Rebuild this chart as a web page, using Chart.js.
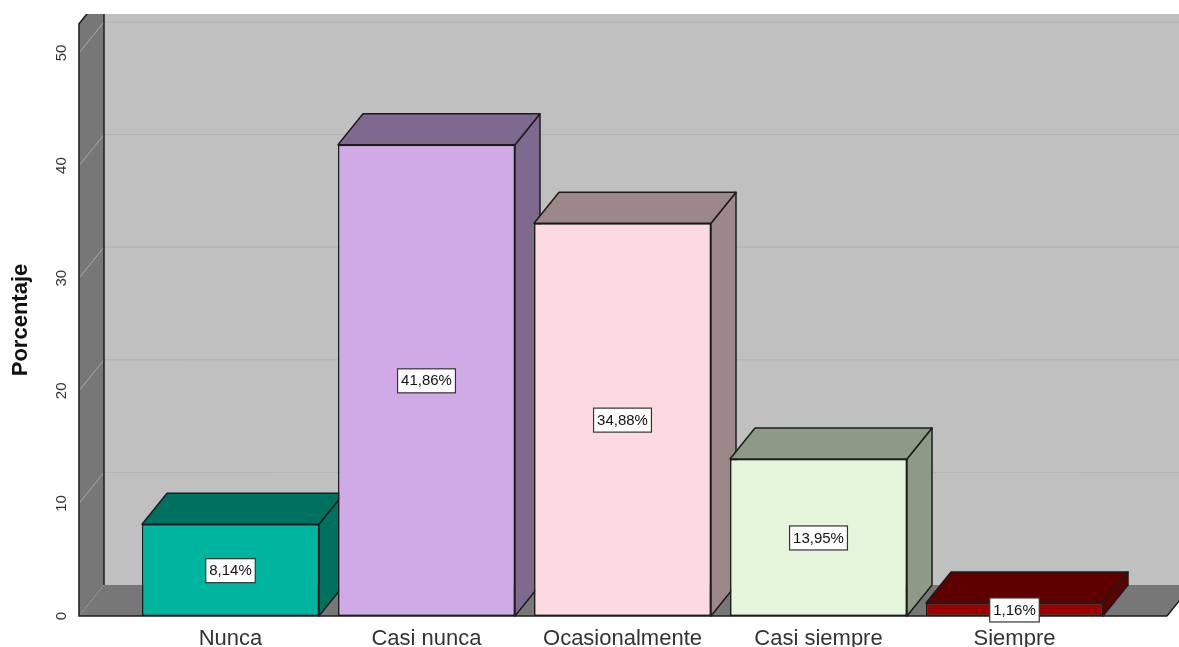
<!DOCTYPE html>
<html lang="es">
  <head>
    <meta charset="UTF-8" />
    <title>Porcentaje</title>
    <style>
      html, body { margin: 0; padding: 0; background: #fff; overflow: hidden; }
      #wrap { width: 1179px; height: 647px; }
    </style>
    <script src="https://cdn.jsdelivr.net/npm/chart.js"></script>
  </head>
  <body>
    <div id="wrap"><canvas id="myChart" width="1179" height="647"></canvas></div>
    <script>
      const categories = ["Nunca", "Casi nunca", "Ocasionalmente", "Casi siempre", "Siempre"];
      const porcentajes = [8.14, 41.86, 34.88, 13.95, 1.16];
      const frontColors = ["#00b5a0", "#d0aae6", "#fbdbdf", "#e5f5dc", "#990000"];
      const sideColors = ["#007060", "#7f6a8f", "#9c8789", "#8e9a86", "#5f0000"];
      const yTitle = "Porcentaje";

      const depthX = 25;
      const depthY = 31;
      const edge = "#1c1c1c";

      function poly(c, pts, fill) {
        c.beginPath();
        pts.forEach(([x, y], i) => (i ? c.lineTo(x, y) : c.moveTo(x, y)));
        c.closePath();
        c.fillStyle = fill;
        c.fill();
        c.stroke();
      }

      // back wall, side wall and floor behind the bars
      const walls = {
        id: "walls",
        beforeDatasetsDraw(chart) {
          const c = chart.ctx;
          const y = chart.scales.y;
          const base = y.getPixelForValue(0);
          const left = chart.chartArea.left - 53.5;
          const right = chart.chartArea.right + 54.5;
          const top = y.getPixelForValue(52.6);
          const w = chart.width;

          c.save();
          c.beginPath();
          c.rect(0, 14, w, chart.height - 14);
          c.clip();
          c.lineWidth = 1.5;
          c.strokeStyle = "transparent";

          c.fillStyle = "#c0c0c0";
          c.fillRect(left + depthX, 0, w, base - depthY);

          poly(c, [[left, base], [left + depthX, base - depthY], [w + 40, base - depthY], [right + depthX, base - depthY], [right, base]], "#777777");
          poly(c, [[left, base], [left, top], [left + depthX, top - depthY], [left + depthX, base - depthY]], "#777777");

          y.ticks.forEach(({ value }) => {
            if (value === 0) return;
            const py = y.getPixelForValue(value);
            c.lineWidth = 1;
            c.strokeStyle = "#a8a8a8";
            c.beginPath();
            c.moveTo(left, py);
            c.lineTo(left + depthX, py - depthY);
            c.stroke();
            c.strokeStyle = "#b2b2b2";
            c.beginPath();
            c.moveTo(left + depthX, py - depthY);
            c.lineTo(w, py - depthY);
            c.stroke();
          });

          c.strokeStyle = edge;
          c.lineWidth = 1.5;
          c.beginPath();
          c.moveTo(right, base);
          c.lineTo(left, base);
          c.lineTo(left, top);
          c.lineTo(left + depthX, top - depthY);
          c.moveTo(left + depthX, top - depthY);
          c.lineTo(left + depthX, base - depthY);
          c.moveTo(right, base);
          c.lineTo(right + depthX, base - depthY);
          c.stroke();

          // sides and tops of the bars, the fronts are drawn after by the library
          c.restore();
          c.save();
          c.strokeStyle = edge;
          c.lineWidth = 1.5;
          c.lineJoin = "round";
          chart.getDatasetMeta(0).data.forEach((bar, i) => {
            const l = bar.x - bar.width / 2;
            const r = bar.x + bar.width / 2;
            poly(c, [[r, bar.base], [r + depthX, bar.base - depthY], [r + depthX, bar.y - depthY], [r, bar.y]], sideColors[i]);
            poly(c, [[l, bar.y], [l + depthX, bar.y - depthY], [r + depthX, bar.y - depthY], [r, bar.y]], sideColors[i]);
          });
          c.restore();
        },
      };

      // white value boxes in the middle of each bar
      const valueBoxes = {
        id: "valueBoxes",
        afterDatasetsDraw(chart) {
          const c = chart.ctx;
          c.save();
          c.font = "15px 'Liberation Sans'";
          c.textAlign = "center";
          c.textBaseline = "middle";
          chart.getDatasetMeta(0).data.forEach((bar, i) => {
            const txt = porcentajes[i].toFixed(2).replace(".", ",") + "%";
            const w = c.measureText(txt).width + 7;
            const h = 24;
            const my = (bar.y + bar.base) / 2 + 0.5;
            c.fillStyle = "#fff";
            c.strokeStyle = "#333";
            c.lineWidth = 1.2;
            c.fillRect(bar.x - w / 2, my - h / 2, w, h);
            c.strokeRect(bar.x - w / 2, my - h / 2, w, h);
            c.fillStyle = "#111";
            c.fillText(txt, bar.x, my + 0.5);
          });
          c.restore();
        },
      };

      // the axis title sits above the middle of the axis, the scale title can't do that
      const axisTitle = {
        id: "axisTitle",
        afterDraw(chart) {
          const c = chart.ctx;
          c.save();
          c.translate(21, 320);
          c.rotate(-Math.PI / 2);
          c.font = "bold 22px 'Liberation Sans'";
          c.textAlign = "center";
          c.textBaseline = "middle";
          c.fillStyle = "#111";
          c.fillText(yTitle, 0, 0);
          c.restore();
        },
      };

      new Chart(document.getElementById("myChart"), {
        type: "bar",
        data: {
          labels: categories,
          datasets: [
            {
              data: porcentajes,
              backgroundColor: frontColors,
              borderColor: edge,
              borderWidth: 1.5,
              borderSkipped: false,
              categoryPercentage: 1,
              barPercentage: 0.903,
            },
          ],
        },
        plugins: [walls, valueBoxes, axisTitle],
        options: {
          responsive: false,
          animation: false,
          layout: { padding: { top: 53, right: 66.5, bottom: 0, left: 0 } },
          plugins: { legend: { display: false }, tooltip: { enabled: false } },
          scales: {
            x: {
              grid: { display: false, drawTicks: false },
              border: { display: false },
              ticks: { color: "#333", padding: 10, maxRotation: 0, font: { family: "Liberation Sans", size: 22 } },
              afterFit(s) {
                s.height = 31;
                s.paddingLeft = s.paddingRight = 0;
              },
            },
            y: {
              min: 0,
              max: 50,
              grid: { display: false, drawTicks: false },
              border: { display: false },
              ticks: {
                stepSize: 10,
                autoSkip: false,
                minRotation: 90,
                maxRotation: 90,
                crossAlign: "center",
                padding: 62,
                color: "#333",
                font: { family: "Liberation Sans", size: 15 },
              },
              afterFit(s) {
                s.width = 132.5;
                s.paddingTop = s.paddingBottom = 0;
              },
            },
          },
        },
      });
    </script>
  </body>
</html>
